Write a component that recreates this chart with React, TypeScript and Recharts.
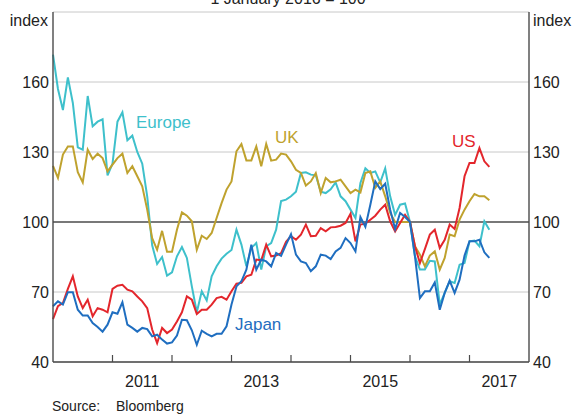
import {
  CartesianGrid,
  Line,
  LineChart,
  ReferenceLine,
  XAxis,
  YAxis,
} from "recharts";

// months since January 2010 (0 = Jan 2010)
const months = Array.from({ length: 89 }, (_, i) => i);

const europe = [
  171.7, 157, 148, 162, 151, 132, 131, 154, 141, 143, 144, 120,
  125, 143, 147, 135, 137, 130, 125, 111, 90, 82, 85, 77,
  78.4, 85.3, 89.3, 84.6, 72.4, 61.3, 70.3, 66.4, 76.7, 81, 84.3, 86.4,
  88, 96.7, 90.3, 81, 88.9, 91, 79.6, 89.6, 91, 96.7, 109, 109.6,
  111, 113, 121, 121.3, 120.3, 120, 113, 112.4, 114, 117, 111, 108.9,
  105.3, 101.7, 116.7, 123, 121, 121.7, 117, 123, 111, 103, 107.4, 107.9,
  100, 85.3, 79.6, 79.6, 83.4, 83.1, 64.6, 69.6, 74.6, 73.9, 81.7, 82.4,
  91.7, 92, 89.6, 100.3, 96.7,
];

const uk = [
  124.1, 118.9, 128.9, 132.4, 132.4, 121.3, 117, 131, 127, 129.3, 127.4, 121.7,
  124.6, 127.4, 129.3, 121, 123.9, 119.6, 115.3, 105.3, 93.1, 88.1, 96.2, 87.3,
  87.3, 96.7, 104.1, 102.7, 100.3, 88.1, 94.1, 92.7, 95.3, 101.7, 108.1, 113.9,
  117.4, 130.3, 133.4, 126.4, 126.4, 132.4, 123.9, 133.4, 126.3, 126.7, 129.3, 128.9,
  126, 122.4, 121, 115.6, 117.4, 121, 112.4, 118.9, 117, 117.4, 118.1, 115.3,
  112.4, 113.9, 112.7, 121, 121.7, 114.6, 117.4, 111, 103.9, 100, 100, 100,
  100, 89.6, 86, 81, 85.6, 87.4, 79.6, 84.6, 94.6, 93.9, 101, 105.3,
  108.9, 112, 111, 111, 109.3,
];

const us = [
  58.4, 63.9, 65.3, 71.3, 76.7, 68.1, 63.1, 66.7, 59.6, 63.1, 62.4, 61.3,
  71.3, 72.7, 73.1, 71, 70.3, 68.1, 66, 63.1, 53.9, 48.1, 54.6, 52.4,
  53.9, 57.4, 61.3, 68.1, 66.7, 60.6, 62.4, 62.4, 64.6, 67.4, 67.9, 66.7,
  70.3, 73.6, 73.9, 76.7, 77.4, 83.9, 83.6, 90.3, 85.3, 85.6, 86.7, 91.5,
  94, 92.4, 94.6, 98.9, 93.9, 94.1, 97.4, 96, 97.7, 97.9, 98.4, 99.6,
  103.5, 91.7, 98.9, 99.3, 101, 102.7, 105.3, 107.4, 100.3, 96, 99.6, 103.1,
  100, 89.6, 82.4, 88.4, 94.6, 96.7, 88.9, 92.4, 98.9, 97, 106, 119.6,
  125.3, 125.3, 131.7, 126, 123.6,
];

const japan = [
  63.9, 66, 64.6, 69.9, 69.9, 62.4, 59.9, 59.9, 56.7, 55, 53, 56,
  61.3, 60.7, 65.6, 56, 54.6, 53, 54.6, 54.1, 51, 51.7, 49.6, 47.9,
  48.4, 51.3, 58.1, 57.9, 53.6, 47.4, 53.4, 52.1, 51, 52.1, 52.1, 55.3,
  64.6, 72.4, 74.6, 79.6, 90.3, 79.6, 83.9, 83.1, 81, 86.7, 85.5, 90.3,
  94.8, 86, 83.1, 82.4, 78.9, 81, 86, 85.6, 84.1, 87.4, 88.9, 93.1,
  91, 87.4, 102.1, 97.9, 107.4, 117.4, 114.1, 116.4, 105.3, 97, 103.9, 102.1,
  100, 85.3, 67.4, 70.3, 70.3, 74.1, 62.4, 69.6, 74.9, 69.6, 75.3, 85.6,
  91.7, 91.7, 92.4, 87, 84.6,
];

const yTicks = [40, 70, 100, 130, 160];
const yearBounds = [12, 24, 36, 48, 60, 72, 84];
const yearLabels = [18, 42, 66, 90];

const data = months.map((m, i) => ({
  m,
  europe: europe[i],
  uk: uk[i],
  us: us[i],
  japan: japan[i],
}));

const FONT = "Arial, 'Liberation Sans', Helvetica, sans-serif";
const TEXT = "#222";
const FRAME = "#4a4a4a";

const XTick = (props: any) => {
  const { x, y, payload } = props;
  const v = payload.value;
  if (v % 12 === 0) {
    return <line x1={x} x2={x} y1={y} y2={y - 7} stroke={FRAME} strokeWidth={1.2} />;
  }
  return (
    <text x={x} y={y + 25} textAnchor="middle" fontSize={16} fill={TEXT} fontFamily={FONT}>
      {2010 + Math.floor(v / 12)}
    </text>
  );
};

export default function App() {
  return (
    <div style={{ position: "absolute", left: 0, top: 0, width: 576, height: 415, background: "#fff" }}>
      <LineChart
        width={576}
        height={415}
        data={data}
        margin={{ top: 12, right: 0, left: 0, bottom: 23 }}
      >
        <CartesianGrid horizontal vertical={false} stroke="#c8c8c8" strokeWidth={1} yAxisId="left" />
        <XAxis
          dataKey="m"
          type="number"
          domain={[0, 96]}
          ticks={[...yearBounds, ...yearLabels].sort((a, b) => a - b)}
          interval={0}
          height={30}
          tickSize={0}
          tickMargin={0}
          tickLine={false}
          tick={<XTick />}
          axisLine={{ stroke: FRAME, strokeWidth: 1.4 }}
        />
        <XAxis
          xAxisId="top"
          orientation="top"
          dataKey="m"
          type="number"
          domain={[0, 96]}
          height={0}
          tick={false}
          tickLine={false}
          axisLine={{ stroke: FRAME, strokeWidth: 1.4 }}
        />
        <YAxis
          yAxisId="left"
          domain={[40, 190]}
          ticks={yTicks}
          interval={0}
          width={53}
          tickSize={0}
          tickMargin={4}
          tickLine={false}
          axisLine={{ stroke: FRAME, strokeWidth: 1.4 }}
          tick={{ fontSize: 16, fill: TEXT, fontFamily: FONT }}
        />
        <YAxis
          yAxisId="right"
          orientation="right"
          domain={[40, 190]}
          ticks={yTicks}
          interval={0}
          width={47}
          tickSize={0}
          tickMargin={4}
          tickLine={false}
          axisLine={{ stroke: FRAME, strokeWidth: 1.4 }}
          tick={{ fontSize: 16, fill: TEXT, fontFamily: FONT }}
        />
        <ReferenceLine yAxisId="left" y={100} stroke="#555" strokeWidth={1.3} />
        <Line yAxisId="right" dataKey="europe" stroke="none" dot={false} legendType="none" isAnimationActive={false} />
        <Line yAxisId="left" dataKey="europe" stroke="#3ec0cb" strokeWidth={2} dot={false} isAnimationActive={false} />
        <Line yAxisId="left" dataKey="uk" stroke="#bfa22e" strokeWidth={2} dot={false} isAnimationActive={false} />
        <Line yAxisId="left" dataKey="us" stroke="#e3262c" strokeWidth={2} dot={false} isAnimationActive={false} />
        <Line yAxisId="left" dataKey="japan" stroke="#1f6ec0" strokeWidth={2} dot={false} isAnimationActive={false} />
      </LineChart>
      <svg
        width={576}
        height={415}
        style={{ position: "absolute", left: 0, top: 0, pointerEvents: "none" }}
        fontFamily={FONT}
      >
        <text x={288} y={4} textAnchor="middle" fontSize={16} fill={TEXT}>1 January 2016 = 100</text>
        <text x={48} y={26} textAnchor="end" fontSize={16} fill={TEXT}>index</text>
        <text x={533} y={26} textAnchor="start" fontSize={16} fill={TEXT}>index</text>
        <text x={136} y={128} fontSize={17} fill="#3ec0cb">Europe</text>
        <text x={275} y={143} fontSize={17} fill="#bfa22e">UK</text>
        <text x={452} y={147} fontSize={17} fill="#e3262c">US</text>
        <text x={235} y={330} fontSize={17} fill="#1f6ec0">Japan</text>
        <text x={52} y={411} fontSize={14} fill={TEXT}>Source:</text>
        <text x={116} y={411} fontSize={14} fill={TEXT}>Bloomberg</text>
      </svg>
    </div>
  );
}
